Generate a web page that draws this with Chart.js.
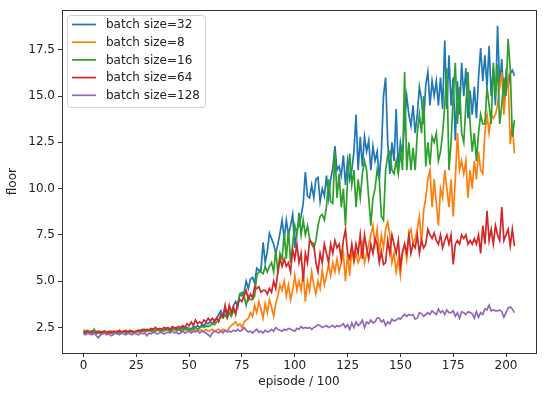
<!DOCTYPE html>
<html>
<head>
<meta charset="utf-8">
<script src="https://cdn.jsdelivr.net/npm/chart.js@4.4.1/dist/chart.umd.min.js"></script>
<style>
  html, body { margin: 0; padding: 0; background: #fff; }
  #wrap { width: 550px; height: 394px; position: relative; }
</style>
</head>
<body>
<div id="wrap"><canvas id="chart"></canvas></div>
<script>
// episode index (x 0..204), floor reached per run
const labels = ["batch size=32", "batch size=8", "batch size=16", "batch size=64", "batch size=128"];
const colors = ["#1f77b4", "#ff7f0e", "#2ca02c", "#d62728", "#9467bd"];
const xTicks = [0, 25, 50, 75, 100, 125, 150, 175, 200];
const yTicks = [2.5, 5.0, 7.5, 10.0, 12.5, 15.0, 17.5];

const bs32 = [
  2.2, 2.15, 2.25, 2.2, 2.3, 2.2, 2.15, 2.2, 2.25, 2.2,
  2.25, 2.2, 2.3, 2.2, 2.25, 2.2, 2.3, 2.25, 2.2, 2.3,
  2.25, 2.2, 2.3, 2.25, 2.2, 2.3, 2.25, 2.35, 2.3, 2.4,
  2.3, 2.35, 2.4, 2.3, 2.35, 2.4, 2.3, 2.4, 2.35, 2.45,
  2.4, 2.35, 2.45, 2.4, 2.5, 2.4, 2.45, 2.5, 2.4, 2.5,
  2.45, 2.4, 2.55, 2.5, 2.6, 2.5, 2.65, 2.6, 2.75, 2.7,
  2.8, 2.7, 2.9, 3.0, 3.2, 3.4, 3.1, 3.5, 3.2, 3.6,
  3.3, 3.7, 3.9, 3.6, 4.3, 4.2, 4.4, 5.0, 4.6, 5.1,
  5.2, 4.9, 5.7, 5.6, 5.6, 7.1, 6.0, 6.6, 7.6, 7.3,
  7.0, 6.5, 7.0, 7.6, 8.3, 7.3, 8.3, 7.5, 8.0, 8.6,
  6.8, 7.8, 8.0, 8.5, 9.2, 10.9, 9.6, 9.5, 10.2, 9.5,
  10.5, 10.6, 9.3, 10.0, 9.6, 10.7, 9.5, 10.5, 11.1, 12.3,
  11.0, 11.2, 10.7, 11.8, 10.2, 11.5, 10.5, 11.0, 12.0, 14.0,
  11.0, 12.8, 11.2, 12.8, 12.0, 12.6, 11.0, 12.3, 11.5, 12.0,
  10.5, 12.0, 15.0, 16.0, 12.5, 10.8, 12.5, 11.5, 14.3, 11.0,
  12.5, 11.8, 13.7, 15.0, 14.0, 13.4, 14.5, 13.0, 14.0, 15.5,
  14.8, 13.5, 15.6, 16.3, 14.5, 15.8, 15.0, 15.8, 14.5, 16.0,
  14.3, 18.0, 14.3, 17.2, 14.5, 16.0, 12.6, 15.8, 14.0, 16.8,
  15.0, 16.5, 13.8, 15.3, 14.0, 15.5, 13.8, 16.0, 17.6, 15.8,
  17.2, 15.5, 17.7, 15.0, 16.5, 14.5, 18.8, 15.5, 17.0, 14.5,
  16.2, 15.5, 16.2, 16.4, 16.1
];
const bs8 = [
  2.4, 2.3, 2.2, 2.3, 2.25, 2.2, 2.3, 2.25, 2.2, 2.3,
  2.25, 2.2, 2.3, 2.2, 2.25, 2.3, 2.2, 2.3, 2.25, 2.3,
  2.35, 2.25, 2.3, 2.2, 2.3, 2.25, 2.3, 2.35, 2.3, 2.25,
  2.3, 2.35, 2.3, 2.4, 2.3, 2.35, 2.3, 2.4, 2.3, 2.35,
  2.4, 2.3, 2.35, 2.4, 2.3, 2.4, 2.35, 2.3, 2.4, 2.35,
  2.4, 2.3, 2.4, 2.35, 2.3, 2.4, 2.35, 2.3, 2.4, 2.3,
  2.35, 2.4, 2.3, 2.35, 2.4, 2.3, 2.4, 2.35, 2.3, 2.5,
  2.6, 2.7, 2.8, 2.6, 2.7, 2.5, 2.8, 2.9, 3.0, 3.3,
  3.1, 3.7, 3.3, 3.9, 3.5, 3.0, 3.8, 3.3, 4.0, 3.6,
  3.1, 3.8, 4.2, 4.8, 4.5, 5.0, 4.2, 4.8, 4.0, 4.5,
  5.3, 4.5, 5.0, 4.5, 5.5, 3.9, 5.0, 4.5, 5.5, 4.8,
  4.3, 5.0, 4.6, 5.6, 4.8, 5.3, 5.9, 5.3, 6.0, 5.5,
  6.2, 5.5, 6.0, 6.5, 5.0, 6.5, 5.3, 6.8, 6.0, 6.5,
  6.0, 6.3, 7.0, 6.0, 6.5, 7.0, 7.5, 8.0, 7.0, 7.8,
  6.5, 7.5, 6.8, 7.8, 8.2, 7.5, 6.0, 6.5, 5.5, 6.2,
  5.3, 6.5, 7.0, 6.2, 7.5, 7.8, 7.0, 7.3, 7.8, 8.5,
  7.0, 8.8, 9.5, 10.5, 11.0, 9.0, 10.5, 9.2, 8.0, 10.0,
  9.5, 11.0, 10.0, 9.0, 10.5, 8.5, 10.5, 13.0, 11.0, 11.5,
  10.8, 11.5, 9.5, 11.0, 10.0, 11.5, 10.5, 12.0, 11.0, 10.8,
  13.0, 14.0, 13.0, 14.0, 13.8, 14.0, 14.5, 15.5, 16.3, 14.0,
  15.5, 16.0, 12.4, 13.5, 11.9
];
const bs16 = [
  2.3, 2.2, 2.35, 2.25, 2.2, 2.4, 2.2, 2.25, 2.3, 2.2,
  2.3, 2.25, 2.2, 2.3, 2.2, 2.25, 2.3, 2.2, 2.25, 2.3,
  2.2, 2.3, 2.25, 2.3, 2.2, 2.3, 2.35, 2.25, 2.3, 2.35,
  2.3, 2.4, 2.3, 2.35, 2.3, 2.4, 2.35, 2.3, 2.4, 2.35,
  2.4, 2.3, 2.4, 2.45, 2.35, 2.4, 2.3, 2.4, 2.45, 2.4,
  2.35, 2.45, 2.4, 2.5, 2.4, 2.5, 2.55, 2.5, 2.6, 2.55,
  2.6, 2.7, 2.65, 2.8, 2.9, 3.1, 3.0, 3.2, 3.0, 3.3,
  3.1, 3.4, 3.3, 3.8, 4.3, 4.4, 4.2, 3.7, 4.2, 4.0,
  4.0, 4.2, 5.3, 5.5, 5.5, 5.4, 5.8, 5.5, 5.8, 6.0,
  5.5, 6.7, 5.4, 6.5, 6.2, 7.6, 6.2, 7.8, 6.0, 7.0,
  8.0, 7.5, 8.7, 7.5, 8.3, 7.5, 8.0, 7.3, 7.0, 6.8,
  7.2, 8.0, 8.5, 8.6, 8.3, 9.0, 10.5, 9.3, 9.2, 12.0,
  9.5, 10.8, 9.0, 10.0, 8.0, 10.5, 11.9, 10.2, 11.0, 9.0,
  10.5, 9.5, 10.8, 11.5, 11.0, 9.5, 8.0, 9.5, 10.0, 11.0,
  10.5, 8.5, 8.3, 11.0, 11.8, 12.0, 11.0, 10.8, 11.5, 10.8,
  12.0, 11.0, 16.3, 11.0, 12.5, 11.0, 12.2, 11.0, 13.0, 14.0,
  13.0, 15.0, 11.2, 12.5, 11.3, 12.8, 12.5, 13.0, 11.5, 12.0,
  13.0, 14.5, 16.5, 11.0, 12.5, 15.0, 16.8, 13.5, 15.5, 13.0,
  12.5, 14.5, 16.3, 13.5, 12.0, 13.0, 11.5, 13.0, 14.0, 13.5,
  13.5, 15.5, 14.5, 13.5, 16.8, 15.0, 16.7, 13.5, 14.5, 16.0,
  15.0, 18.1, 16.5, 12.8, 13.7
];
const bs64 = [
  2.2, 2.3, 2.25, 2.2, 2.3, 2.2, 2.25, 2.3, 2.2, 2.25,
  2.3, 2.2, 2.25, 2.2, 2.3, 2.25, 2.2, 2.35, 2.25, 2.3,
  2.3, 2.25, 2.35, 2.3, 2.25, 2.3, 2.35, 2.3, 2.4, 2.35,
  2.4, 2.35, 2.45, 2.4, 2.5, 2.4, 2.45, 2.4, 2.5, 2.45,
  2.5, 2.4, 2.55, 2.5, 2.45, 2.55, 2.5, 2.6, 2.5, 2.7,
  2.6, 2.8, 2.6, 2.9, 2.7, 2.8, 2.7, 2.9, 2.8, 3.0,
  2.85, 3.0, 2.8, 3.0, 2.8, 3.2, 3.1, 3.7, 3.1, 3.7,
  3.3, 3.6, 3.2, 3.8, 4.0, 3.9, 4.2, 4.5, 4.0, 4.3,
  4.1, 4.7, 4.6, 4.7, 4.4, 4.5, 4.5, 4.3, 4.6, 4.4,
  5.0, 4.6, 5.5, 6.2, 5.8, 6.2, 5.8, 6.0, 5.5, 6.7,
  6.2, 7.0, 6.0, 6.5, 5.0, 6.5, 6.0, 7.2, 7.1, 7.0,
  6.0, 5.5, 6.5, 6.0, 7.0, 6.5, 6.0, 7.0, 6.5, 7.2,
  6.8, 7.0, 6.2, 7.2, 7.8, 6.5, 6.2, 7.0, 6.2, 7.0,
  6.5, 7.5, 6.2, 7.5, 6.8, 6.2, 7.0, 6.5, 7.3, 7.0,
  6.0, 6.6, 5.9, 6.0, 7.2, 6.5, 7.5, 7.0, 6.5, 7.2,
  5.8, 6.6, 7.0, 6.5, 7.5, 6.5, 7.0, 6.8, 7.5, 6.5,
  7.2, 6.8, 7.0, 7.8, 7.5, 7.3, 7.6, 7.2, 7.0, 7.5,
  6.8, 7.2, 7.5, 7.0, 7.5, 5.9, 7.0, 7.2, 7.0, 7.5,
  7.3, 7.5, 7.0, 7.2, 7.0, 7.3, 7.0, 7.5, 6.5, 8.0,
  7.0, 8.8, 7.2, 7.8, 7.0, 8.0, 7.5, 7.2, 9.0, 7.2,
  7.5, 7.8, 6.9, 7.8, 6.9
];
const bs128 = [
  2.15, 2.1, 2.2, 2.15, 2.1, 2.2, 2.05, 1.95, 2.1, 2.15,
  2.2, 2.1, 2.15, 2.05, 2.1, 2.2, 2.15, 2.1, 2.2, 2.15,
  2.1, 2.2, 2.15, 2.1, 2.2, 2.15, 2.1, 2.2, 2.15, 2.2,
  2.05, 2.2, 2.15, 2.25, 2.2, 2.15, 2.2, 2.25, 2.15, 2.2,
  2.25, 2.2, 2.3, 2.2, 2.25, 2.15, 2.2, 2.3, 2.2, 2.25,
  2.3, 2.2, 2.3, 2.25, 2.35, 2.2, 2.3, 2.25, 2.2, 2.1,
  2.0, 2.2, 2.3, 2.25, 2.2, 2.3, 2.2, 2.35, 2.25, 2.3,
  2.25, 2.35, 2.3, 2.4, 2.3, 2.35, 2.5, 2.35, 2.25, 2.3,
  2.2, 2.3, 2.4, 2.25, 2.3, 2.2, 2.35, 2.25, 2.3, 2.4,
  2.3, 2.5, 2.4, 2.35, 2.3, 2.4, 2.35, 2.45, 2.4, 2.35,
  2.3, 2.45, 2.4, 2.55, 2.45, 2.5, 2.45, 2.5, 2.4, 2.5,
  2.55, 2.65, 2.6, 2.5, 2.55, 2.6, 2.5, 2.55, 2.6, 2.5,
  2.6, 2.55, 2.6, 2.7, 2.5, 2.65, 2.4, 2.75, 2.5, 2.8,
  2.6, 2.7, 2.9, 2.5, 2.8, 2.7, 2.9, 2.75, 2.8, 3.0,
  3.0, 2.8, 2.9, 2.6, 2.8, 2.7, 2.95, 2.85, 2.9, 3.0,
  2.95, 3.1, 3.2, 3.1, 3.2, 3.15, 3.2, 2.95, 3.0, 3.3,
  3.25, 3.1, 3.2, 3.3, 3.2, 3.4, 3.3, 3.2, 3.5, 3.3,
  3.4, 3.2, 3.45, 3.3, 3.3, 3.4, 3.1, 3.3, 3.0, 3.35,
  3.3, 3.2, 3.35, 3.3, 3.25, 3.0, 3.35, 3.05, 3.3, 3.2,
  3.5, 3.45, 3.7, 3.4, 3.45, 3.4, 3.4, 3.45, 3.35, 3.05,
  3.3, 3.55, 3.6, 3.5, 3.3
];

const series = [bs32, bs8, bs16, bs64, bs128];
const FONT = "'DejaVu Sans', sans-serif";
const FS = 12;

const datasets = series.map((vals, i) => ({
  label: labels[i],
  data: vals.map((v, x) => ({ x: x, y: v })),
  borderColor: colors[i],
  backgroundColor: colors[i],
  borderWidth: 1.7,
  pointRadius: 0,
  tension: 0,
  fill: false,
  order: series.length - i
}));

// axes frame + legend box, matplotlib style
const framePlugin = {
  id: "frame",
  afterDraw(chart) {
    const ctx = chart.ctx;
    const a = chart.chartArea;
    ctx.save();
    ctx.strokeStyle = "#333";
    ctx.lineWidth = 1;
    ctx.strokeRect(Math.round(a.left) + 0.5, Math.round(a.top) + 0.5,
      Math.round(a.right - a.left), Math.round(a.bottom - a.top));

    // legend
    const bx = 67.5, by = 15.5, bw = 138, bh = 92;
    ctx.beginPath();
    ctx.roundRect(bx, by, bw, bh, 3);
    ctx.fillStyle = "rgba(255,255,255,0.8)";
    ctx.fill();
    ctx.strokeStyle = "#d0d0d0";
    ctx.stroke();
    ctx.font = FS + "px " + FONT;
    ctx.textBaseline = "middle";
    ctx.textAlign = "left";
    labels.forEach((lab, i) => {
      const y = 24.5 + i * 17.7;
      ctx.beginPath();
      ctx.moveTo(72, y);
      ctx.lineTo(96, y);
      ctx.strokeStyle = colors[i];
      ctx.lineWidth = 1.7;
      ctx.stroke();
      ctx.fillStyle = "#222";
      ctx.fillText(lab, 106, y + 0.5);
    });
    ctx.restore();
  }
};

const ctx = document.getElementById("chart");
new Chart(ctx, {
  type: "line",
  data: { datasets: datasets },
  options: {
    responsive: true,
    maintainAspectRatio: false,
    animation: false,
    layout: { padding: { top: 9, right: 14, left: 0, bottom: 0 } },
    plugins: {
      legend: { display: false },
      tooltip: { enabled: false }
    },
    scales: {
      x: {
        type: "linear",
        min: -10.2,
        max: 214.2,
        afterBuildTicks: (s) => { s.ticks = xTicks.map(v => ({ value: v })); },
        afterFit: (s) => { s.height = 41; },
        grid: { drawOnChartArea: false, drawTicks: true, tickLength: 4, tickColor: "#333" },
        border: { display: true, color: "#333" },
        ticks: { color: "#222", font: { family: FONT, size: FS }, padding: 2, maxRotation: 0,
                 callback: (v) => String(v) },
        title: { display: true, text: "episode / 100", color: "#222",
                 font: { family: FONT, size: FS }, padding: { top: 0, bottom: 5 } }
      },
      y: {
        type: "linear",
        min: 1.12,
        max: 19.64,
        afterBuildTicks: (s) => { s.ticks = yTicks.map(v => ({ value: v })); },
        afterFit: (s) => { s.width = 62; },
        grid: { drawOnChartArea: false, drawTicks: true, tickLength: 4, tickColor: "#333" },
        border: { display: true, color: "#333" },
        ticks: { color: "#222", font: { family: FONT, size: FS }, padding: 3,
                 callback: (v) => Number(v).toFixed(1) },
        title: { display: true, text: "floor", color: "#222",
                 font: { family: FONT, size: FS }, padding: { top: 6, bottom: 0 } }
      }
    }
  },
  plugins: [framePlugin]
});
</script>
</body>
</html>
